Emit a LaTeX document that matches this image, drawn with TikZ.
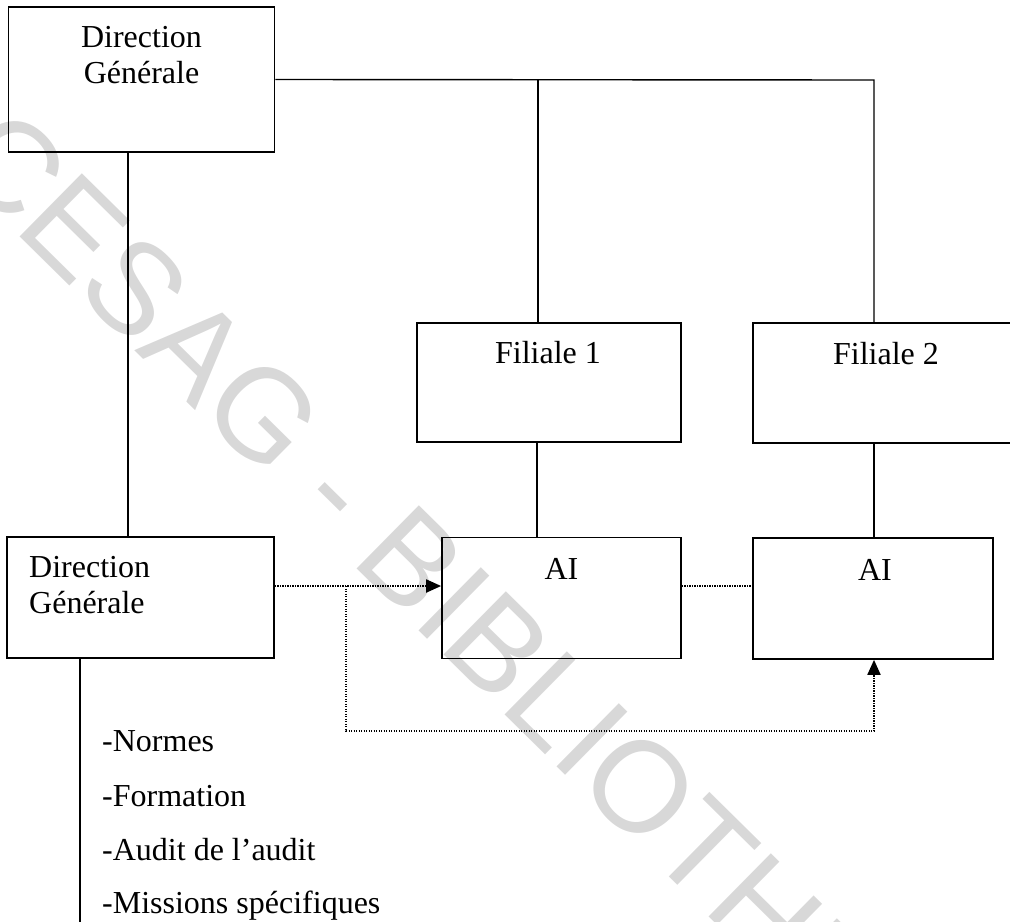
\documentclass[tikz,border=0pt]{standalone}
\usepackage{fontspec}
\setmainfont{Liberation Serif}
\newfontfamily\wmfont{Liberation Sans}
\usetikzlibrary{arrows.meta}
\definecolor{wmgray}{RGB}{216,216,216}
\begin{document}
\begin{tikzpicture}[x=1bp,y=-1bp,
  box/.style={draw, line width=1.7bp, inner sep=0pt},
  lbl/.style={inner sep=0pt, font=\fontsize{32bp}{36bp}\selectfont},
  link/.style={line width=1.4bp},
  dotline/.style={line width=1.9bp, dash pattern=on 1.2bp off 1.3bp},
  tip/.style={-{Triangle[length=15bp,width=13bp]}},
  wm/.style={inner sep=0pt, text=wmgray, font=\wmfont\fontsize{129bp}{129bp}\selectfont}]

\useasboundingbox (0,0) rectangle (1010,922);
\clip (0,0) rectangle (1010,922);

% background stamp
\node[wm, anchor=base west, rotate=-44.6] (stamp) at (-54,164) {CESAG - BIBLIOTHEQUE};

% boxes
\node[box, minimum width=266bp, minimum height=145bp] (dgtop) at (141.5,79.5) {};
\node[box, minimum width=267bp, minimum height=121bp] (dglow) at (140.5,597.5) {};
\node[box, minimum width=264bp, minimum height=119bp] (fil1) at (549,382.5) {};
\node[box, minimum width=266bp, minimum height=120bp] (fil2) at (886,383) {};
\node[box, minimum width=239bp, minimum height=121bp] (ai1) at (561.5,598) {};
\node[box, minimum width=240bp, minimum height=121bp] (ai2) at (873,598.5) {};

% box texts
\node[lbl, anchor=base] (dgtopA) at (141.5,47) {Direction};
\node[lbl, anchor=base] (dgtopB) at (141.5,83) {Générale};
\node[lbl, anchor=base west] (dglowA) at (29,577) {Direction};
\node[lbl, anchor=base west] (dglowB) at (29,613) {Générale};
\node[lbl, anchor=base] (fil1t) at (548,363) {Filiale 1};
\node[lbl, anchor=base] (fil2t) at (886,364) {Filiale 2};
\node[lbl, anchor=base] (ai1t) at (561.5,579) {AI};
\node[lbl, anchor=base] (ai2t) at (875,580) {AI};

% list of missions
\node[lbl, anchor=base west] (item1) at (102,751) {-Normes};
\node[lbl, anchor=base west] (item2) at (102,806) {-Formation};
\node[lbl, anchor=base west] (item3) at (102,860) {-Audit de l’audit};
\node[lbl, anchor=base west] (item4) at (102,913) {-Missions spécifiques};

% reference coordinates
\coordinate (topright) at (874,80);
\coordinate (topmid) at (538,80);
\coordinate (f1drop) at (537,0);
\coordinate (dgdrop) at (128,0);
\coordinate (listbar) at (80,0);
\coordinate (listend) at (80,922);
\coordinate (dotrow) at (0,586);
\coordinate (split) at (346,586);
\coordinate (loop) at (346,731);

% solid links
\draw[link] (dgtop.east) -- (topright) -- (topright |- fil2.north);
\draw[link] (topmid) -- (topmid |- fil1.north);
\draw[link] (f1drop |- fil1.south) -- (f1drop |- ai1.north);
\draw[link] (topright |- fil2.south) -- (topright |- ai2.north);
\draw[link] (dgdrop |- dgtop.south) -- (dgdrop |- dglow.north);
\draw[link] (listbar |- dglow.south) -- (listend);

% dotted links
\draw[dotline, tip] (dglow.east |- dotrow) -- (ai1.west |- dotrow);
\draw[dotline, tip] (split) -- (loop) -- (loop -| topright) -- (topright |- ai2.south);
\draw[dotline] (ai1.east |- dotrow) -- (ai2.west |- dotrow);

\end{tikzpicture}
\end{document}
